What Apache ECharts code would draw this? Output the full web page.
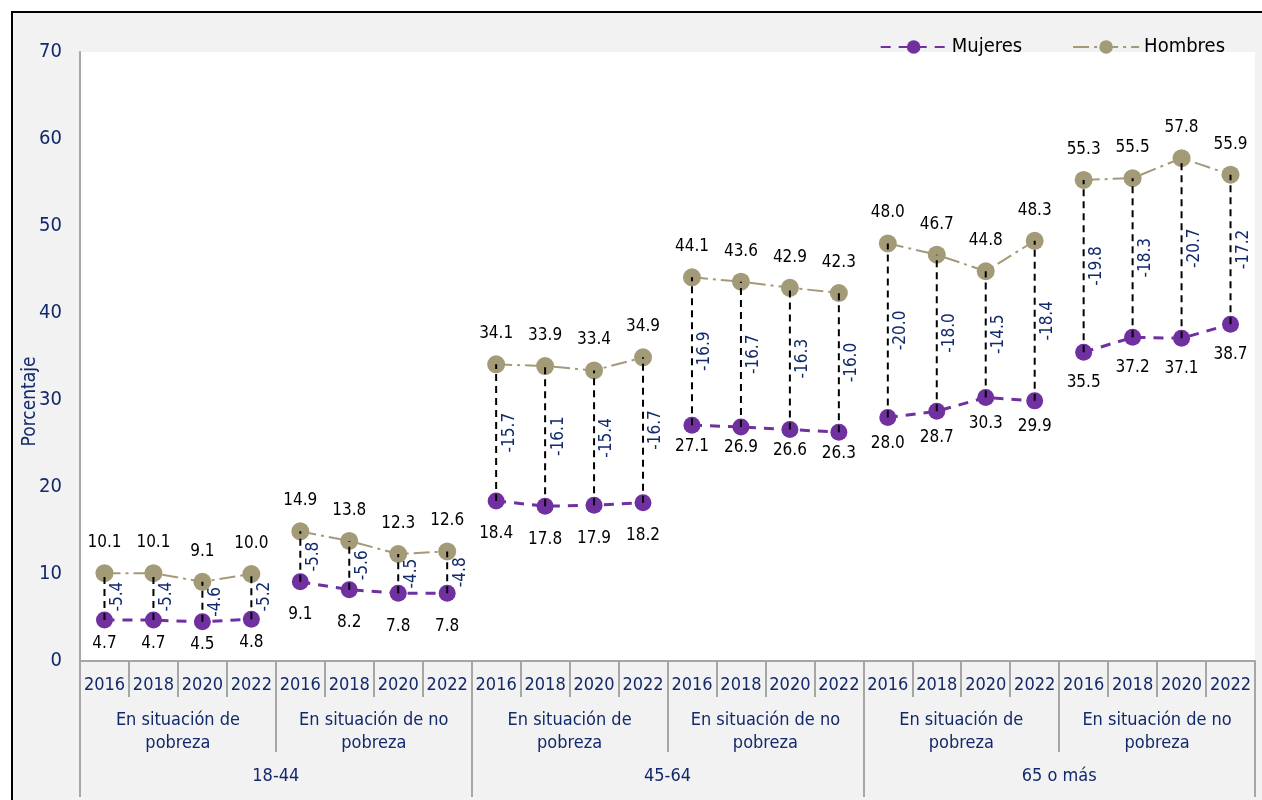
<!DOCTYPE html>
<html>
<head>
<meta charset="utf-8">
<script src="https://cdn.jsdelivr.net/npm/echarts@6/dist/echarts.min.js"></script>
<style>
html, body { margin: 0; padding: 0; background: #fff; }
#frame { position: absolute; left: 11px; top: 11px; width: 1260px; height: 800px; background: #f2f2f2; border-left: 2px solid #000; border-top: 2px solid #000; }
#chart { position: absolute; left: 0; top: 0; width: 1262px; height: 800px; }
</style>
</head>
<body>
<div id="frame"></div>
<div id="chart"></div>
<script>
// datos
var years = ['2016', '2018', '2020', '2022', '2016', '2018', '2020', '2022',
    '2016', '2018', '2020', '2022', '2016', '2018', '2020', '2022',
    '2016', '2018', '2020', '2022', '2016', '2018', '2020', '2022'];
var niveles = ['En situación de\npobreza', 'En situación de no\npobreza',
    'En situación de\npobreza', 'En situación de no\npobreza',
    'En situación de\npobreza', 'En situación de no\npobreza'];
var edades = ['18-44', '45-64', '65 o más'];
var mujeres = [4.7, 4.7, 4.5, 4.8, 9.1, 8.2, 7.8, 7.8, 18.4, 17.8, 17.9, 18.2,
    27.1, 26.9, 26.6, 26.3, 28.0, 28.7, 30.3, 29.9, 35.5, 37.2, 37.1, 38.7];
var hombres = [10.1, 10.1, 9.1, 10.0, 14.9, 13.8, 12.3, 12.6, 34.1, 33.9, 33.4, 34.9,
    44.1, 43.6, 42.9, 42.3, 48.0, 46.7, 44.8, 48.3, 55.3, 55.5, 57.8, 55.9];
var brecha = [-5.4, -5.4, -4.6, -5.2, -5.8, -5.6, -4.5, -4.8, -15.7, -16.1, -15.4, -16.7,
    -16.9, -16.7, -16.3, -16.0, -20.0, -18.0, -14.5, -18.4, -19.8, -18.3, -20.7, -17.2];

var navy = '#12296b';
var gray = '#a6a6a6';
var font = '"DejaVu Sans Condensed", "DejaVu Sans", sans-serif';
// distancia de la etiqueta de Mujeres por grupo
var mujDist = [6, 16, 16, 4, 9, 13];

var chart = echarts.init(document.getElementById('chart'));

function groupData(vals, g) {
    return vals.map(function (v, i) { return Math.floor(i / 4) === g ? v : '-'; });
}

var series = [];
for (var g = 0; g < 6; g++) {
    series.push({
        name: 'Hombres',
        type: 'line',
        data: groupData(hombres, g),
        symbol: 'circle',
        symbolSize: 18,
        z: 2,
        itemStyle: { color: '#a39a78' },
        lineStyle: { color: '#a39a78', width: 2, type: [16, 5, 3, 5] },
        label: {
            show: true, position: 'top', distance: 13,
            color: '#000', fontSize: 17, fontFamily: font,
            formatter: function (p) { return p.value.toFixed(1); }
        }
    });
    series.push({
        name: 'Mujeres',
        type: 'line',
        data: groupData(mujeres, g),
        symbol: 'circle',
        symbolSize: 17,
        z: 2,
        itemStyle: { color: '#7030a0' },
        lineStyle: { color: '#7030a0', width: 3, type: [10, 8] },
        label: {
            show: true, position: 'bottom', distance: mujDist[g],
            color: '#000', fontSize: 17, fontFamily: font,
            formatter: function (p) { return p.value.toFixed(1); }
        }
    });
}

// lineas verticales con la brecha
series.push({
    type: 'custom',
    z: 4,
    silent: true,
    data: mujeres.map(function (m, i) { return [i, m, hombres[i], brecha[i]]; }),
    encode: { x: 0, y: [1, 2] },
    renderItem: function (params, api) {
        var p1 = api.coord([api.value(0), api.value(1)]);
        var p2 = api.coord([api.value(0), api.value(2)]);
        return {
            type: 'group',
            children: [{
                type: 'line',
                shape: { x1: p1[0], y1: p1[1], x2: p2[0], y2: p2[1] },
                style: { stroke: '#000', lineWidth: 2, lineDash: [7, 5] }
            }, {
                type: 'text',
                x: p1[0] + 13,
                y: (p1[1] + p2[1]) / 2,
                rotation: Math.PI / 2,
                style: {
                    text: api.value(3).toFixed(1),
                    fill: navy, fontSize: 17, fontFamily: font,
                    align: 'center', verticalAlign: 'middle'
                }
            }]
        };
    }
});

var tickStyle = { color: gray, width: 2 };

var option = {
    animation: false,
    textStyle: { fontFamily: font },
    legend: {
        data: ['Mujeres', 'Hombres'],
        right: 32,
        top: 32,
        itemWidth: 66,
        itemHeight: 17,
        itemGap: 50,
        textStyle: { color: '#000', fontSize: 20, fontFamily: font }
    },
    grid: {
        left: 80, right: 7, top: 52, bottom: 139,
        show: true, backgroundColor: '#fff', borderWidth: 0,
        outerBoundsMode: 'none'
    },
    xAxis: [{
        type: 'category',
        data: years,
        position: 'bottom',
        axisLine: { show: true, lineStyle: tickStyle },
        axisTick: { show: true, interval: 0, length: 36, lineStyle: tickStyle },
        axisLabel: { interval: 0, margin: 15, color: navy, fontSize: 18, fontFamily: font }
    }, {
        type: 'category',
        data: niveles,
        position: 'bottom',
        axisLine: { show: false },
        axisTick: { show: true, interval: 0, length: 91, lineStyle: tickStyle },
        axisLabel: { interval: 0, margin: 48, lineHeight: 23, color: navy, fontSize: 18, fontFamily: font }
    }, {
        type: 'category',
        data: edades,
        position: 'bottom',
        axisLine: { show: false },
        axisTick: { show: true, interval: 0, length: 136, lineStyle: tickStyle },
        axisLabel: { interval: 0, margin: 106, color: navy, fontSize: 18, fontFamily: font }
    }],
    yAxis: {
        type: 'value',
        min: 0, max: 70, interval: 10,
        name: 'Porcentaje',
        nameLocation: 'middle',
        nameGap: 40,
        nameMoveOverlap: false,
        nameTextStyle: { color: navy, fontSize: 19, fontFamily: font, padding: [0, 90, 0, 0] },
        axisLine: { show: true, lineStyle: tickStyle },
        axisTick: { show: false },
        splitLine: { show: false },
        axisLabel: { margin: 18, color: navy, fontSize: 20, fontFamily: font }
    },
    series: series
};

chart.setOption(option);
</script>
</body>
</html>
